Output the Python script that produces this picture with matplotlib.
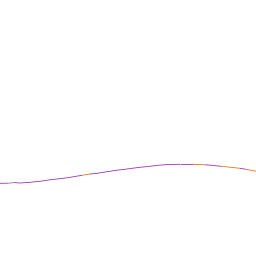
import matplotlib
matplotlib.use('Agg')
import matplotlib.pyplot as plt
from matplotlib.collections import LineCollection
import numpy as np

# curve samples (x position, height)
x = [0, 8, 14, 20, 30, 40, 52, 60, 68, 76, 82, 90, 92, 96, 103, 110, 116, 125,
     132, 140, 150, 158, 168, 180, 193, 205, 212, 221, 231, 240, 246, 251, 256]
y = [72.7, 72.8, 73.4, 73.0, 73.7, 74.7, 76.5, 77.3, 78.3, 79.7, 80.7, 82.0,
     82.2, 82.5, 83.7, 84.7, 85.7, 86.7, 87.7, 88.7, 89.7, 90.7, 91.5, 91.7,
     91.7, 91.2, 90.7, 89.7, 88.7, 87.7, 86.7, 85.7, 84.8]
# segment colour groups: p = purple, o = orange, g = gray
seg_colors = ['p', 'g', 'p', 'p', 'p', 'p', 'p', 'p', 'p', 'p', 'o', 'p',
              'p', 'p', 'p', 'p', 'p', 'p', 'p', 'p', 'p', 'p', 'p', 'p',
              'o', 'p', 'p', 'o', 'o', 'p', 'o', 'o']

palette = {'p': '#9b30b0', 'o': '#e8731a', 'g': '#808080'}

pts = np.column_stack([x, y])
segs = [pts[i:i + 2] for i in range(len(pts) - 1)]

fig = plt.figure(figsize=(2.56, 2.56), dpi=100)
ax = fig.add_axes([0, 0, 1, 1])
lc = LineCollection(segs, colors=[palette[c] for c in seg_colors], linewidths=0.6)
ax.add_collection(lc)
ax.set_xlim(0, 256)
ax.set_ylim(0, 256)
ax.axis('off')
fig.savefig('out.png', dpi=100, facecolor='white')
